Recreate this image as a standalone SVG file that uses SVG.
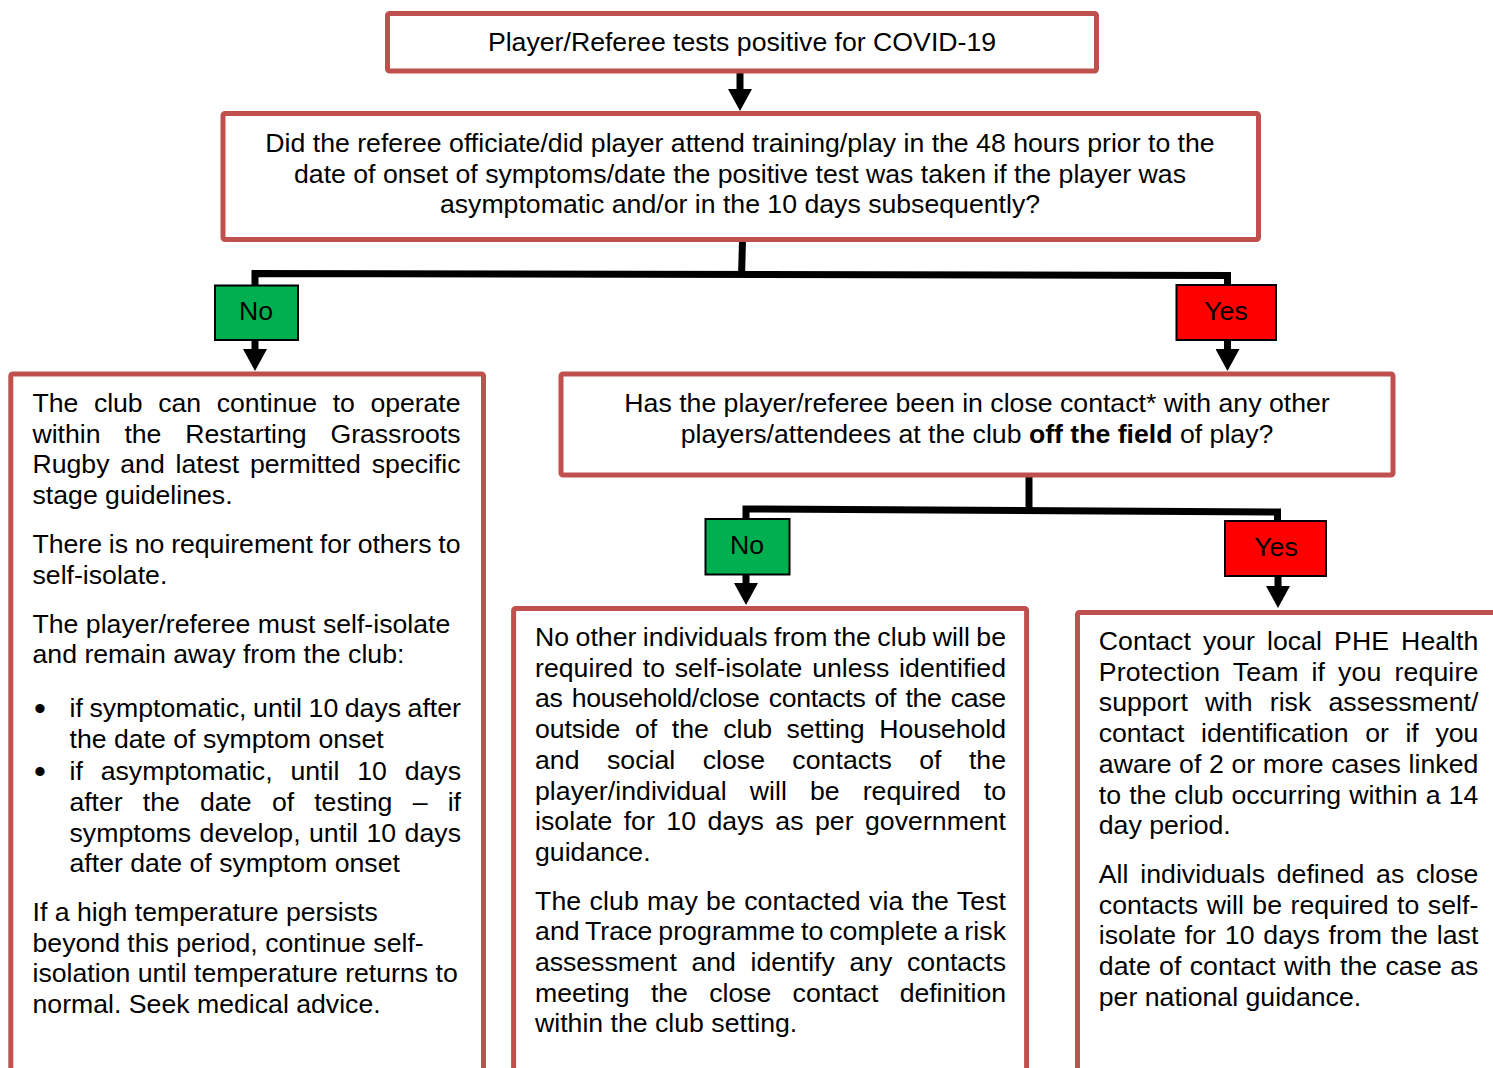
<svg xmlns="http://www.w3.org/2000/svg" width="1493" height="1068" viewBox="0 0 1493 1068">
<style>
.box{fill:#fff;stroke:#C0504D;stroke-width:5}
.no{fill:#00B050;stroke:#000;stroke-width:2}
.yes{fill:#FF0000;stroke:#000;stroke-width:2}
.t{font-family:"Liberation Sans",Arial,sans-serif;font-size:26.67px;fill:#000}
.c{text-anchor:middle}
.b{font-weight:bold}
.ln{fill:none;stroke:#000;stroke-width:7;stroke-linejoin:miter}
.bul{font-family:"Liberation Sans",Arial,sans-serif;font-size:34px;fill:#000;text-anchor:middle}
</style>
<defs>
<marker id="ah" viewBox="0 -12 22 24" refX="1" refY="0" markerWidth="22" markerHeight="24" markerUnits="userSpaceOnUse" orient="auto">
<path d="M0,-12 L22,0 L0,12 Z" fill="#000"/>
</marker>
</defs>

<g id="connectors">
<line class="ln" x1="740" y1="73" x2="740" y2="90" marker-end="url(#ah)"/>
<path class="ln" d="M742.5,240 L741.5,277"/>
<path class="ln" d="M255,286 V273.5 L1227.5,275.5 V286"/>
<line class="ln" x1="255" y1="340" x2="255" y2="350" marker-end="url(#ah)"/>
<line class="ln" x1="1227.5" y1="340" x2="1227.5" y2="350" marker-end="url(#ah)"/>
<path class="ln" d="M1029,475 V513"/>
<path class="ln" d="M746,520 V509 L1277.5,512 V522"/>
<line class="ln" x1="746" y1="574" x2="746" y2="584" marker-end="url(#ah)"/>
<line class="ln" x1="1278" y1="576" x2="1278" y2="587" marker-end="url(#ah)"/>
</g>

<g id="n-start">
<rect class="box" x="387.5" y="13.5" width="709" height="57.5" rx="2"/>
<text class="t c" x="742" y="51">Player/Referee tests positive for COVID-19</text>
</g>

<g id="n-q1">
<rect class="box" x="223" y="113.5" width="1035.5" height="126" rx="2"/>
<text class="t c" x="740" y="151.5">Did the referee officiate/did player attend training/play in the 48 hours prior to the</text>
<text class="t c" x="740" y="182.5">date of onset of symptoms/date the positive test was taken if the player was</text>
<text class="t c" x="740" y="212.5">asymptomatic and/or in the 10 days subsequently?</text>
</g>

<g id="n-no1">
<rect class="no" x="215" y="285.5" width="83" height="54.5"/>
<text class="t c" x="256" y="320">No</text>
</g>

<g id="n-yes1">
<rect class="yes" x="1176.5" y="285" width="99.5" height="55"/>
<text class="t c" x="1226" y="320">Yes</text>
</g>

<g id="n-left">
<rect class="box" x="10.8" y="374" width="472.7" height="730" rx="2"/>
<text class="t" x="32.5" y="412" word-spacing="8.3" textLength="428" lengthAdjust="spacing">The club can continue to operate</text>
<text class="t" x="32.5" y="442.5" word-spacing="16.6" textLength="428" lengthAdjust="spacing">within the Restarting Grassroots</text>
<text class="t" x="32.5" y="473" word-spacing="3.5" textLength="428" lengthAdjust="spacing">Rugby and latest permitted specific</text>
<text class="t" x="32.5" y="503.5">stage guidelines.</text>
<text class="t" x="32.5" y="553" word-spacing="-0.5" textLength="428" lengthAdjust="spacing">There is no requirement for others to</text>
<text class="t" x="32.5" y="584">self-isolate.</text>
<text class="t" x="32.5" y="632.7">The player/referee must self-isolate</text>
<text class="t" x="32.5" y="663.4">and remain away from the club:</text>
<text class="bul" x="40" y="720">•</text>
<text class="t" x="69.5" y="717" word-spacing="-0.9" textLength="391.5" lengthAdjust="spacing">if symptomatic, until 10 days after</text>
<text class="t" x="69.5" y="748">the date of symptom onset</text>
<text class="bul" x="40" y="783">•</text>
<text class="t" x="69.5" y="780" word-spacing="10.4" textLength="391.5" lengthAdjust="spacing">if asymptomatic, until 10 days</text>
<text class="t" x="69.5" y="811" word-spacing="13" textLength="391.5" lengthAdjust="spacing">after the date of testing – if</text>
<text class="t" x="69.5" y="842" word-spacing="1" textLength="391.5" lengthAdjust="spacing">symptoms develop, until 10 days</text>
<text class="t" x="69.5" y="872">after date of symptom onset</text>
<text class="t" x="32.5" y="921">If a high temperature persists</text>
<text class="t" x="32.5" y="951.7">beyond this period, continue self-</text>
<text class="t" x="32.5" y="982.4">isolation until temperature returns to</text>
<text class="t" x="32.5" y="1013">normal. Seek medical advice.</text>
</g>

<g id="n-q2">
<rect class="box" x="561" y="374" width="832" height="101" rx="2"/>
<text class="t c" x="977" y="412">Has the player/referee been in close contact* with any other</text>
<text class="t c" x="977" y="443">players/attendees at the club <tspan class="b">off the field</tspan> of play?</text>
</g>

<g id="n-no2">
<rect class="no" x="705.5" y="519" width="84" height="55.5"/>
<text class="t c" x="747" y="554">No</text>
</g>

<g id="n-yes2">
<rect class="yes" x="1225" y="521" width="101" height="55"/>
<text class="t c" x="1276" y="556">Yes</text>
</g>

<g id="n-mid">
<rect class="box" x="513.6" y="608.5" width="513" height="500" rx="2"/>
<text class="t" x="535" y="646" word-spacing="-1" textLength="471" lengthAdjust="spacing">No other individuals from the club will be</text>
<text class="t" x="535" y="676.7" word-spacing="2.3" textLength="471" lengthAdjust="spacing">required to self-isolate unless identified</text>
<text class="t" x="535" y="707.4" word-spacing="2.1" textLength="471" lengthAdjust="spacing">as household/close contacts of the case</text>
<text class="t" x="535" y="738.1" word-spacing="7.4" textLength="471" lengthAdjust="spacing">outside of the club setting Household</text>
<text class="t" x="535" y="768.8" word-spacing="19.9" textLength="471" lengthAdjust="spacing">and social close contacts of the</text>
<text class="t" x="535" y="799.5" word-spacing="15.6" textLength="471" lengthAdjust="spacing">player/individual will be required to</text>
<text class="t" x="535" y="830.2" word-spacing="4" textLength="471" lengthAdjust="spacing">isolate for 10 days as per government</text>
<text class="t" x="535" y="860.9">guidance.</text>
<text class="t" x="535" y="909.5" word-spacing="0.7" textLength="471" lengthAdjust="spacing">The club may be contacted via the Test</text>
<text class="t" x="535" y="940.2" word-spacing="-1.7" textLength="471" lengthAdjust="spacing">and Trace programme to complete a risk</text>
<text class="t" x="535" y="970.9" word-spacing="7.4" textLength="471" lengthAdjust="spacing">assessment and identify any contacts</text>
<text class="t" x="535" y="1001.6" word-spacing="14" textLength="471" lengthAdjust="spacing">meeting the close contact definition</text>
<text class="t" x="535" y="1032.3">within the club setting.</text>
</g>

<g id="n-right">
<rect class="box" x="1077.5" y="612.5" width="500" height="500" rx="2"/>
<text class="t" x="1098.8" y="650" word-spacing="4.7" textLength="379.5" lengthAdjust="spacing">Contact your local PHE Health</text>
<text class="t" x="1098.8" y="680.7" word-spacing="5.4" textLength="379.5" lengthAdjust="spacing">Protection Team if you require</text>
<text class="t" x="1098.8" y="711.4" word-spacing="9.8" textLength="379.5" lengthAdjust="spacing">support with risk assessment/</text>
<text class="t" x="1098.8" y="742.1" word-spacing="9.4" textLength="379.5" lengthAdjust="spacing">contact identification or if you</text>
<text class="t" x="1098.8" y="772.8" word-spacing="0.2" textLength="379.5" lengthAdjust="spacing">aware of 2 or more cases linked</text>
<text class="t" x="1098.8" y="803.5" word-spacing="0.7" textLength="379.5" lengthAdjust="spacing">to the club occurring within a 14</text>
<text class="t" x="1098.8" y="834.2">day period.</text>
<text class="t" x="1098.8" y="883" word-spacing="4.3" textLength="379.5" lengthAdjust="spacing">All individuals defined as close</text>
<text class="t" x="1098.8" y="913.7" word-spacing="1.1" textLength="379.5" lengthAdjust="spacing">contacts will be required to self-</text>
<text class="t" x="1098.8" y="944.4" word-spacing="1.4" textLength="379.5" lengthAdjust="spacing">isolate for 10 days from the last</text>
<text class="t" x="1098.8" y="975.1" word-spacing="0.9" textLength="379.5" lengthAdjust="spacing">date of contact with the case as</text>
<text class="t" x="1098.8" y="1005.8">per national guidance.</text>
</g>
</svg>
